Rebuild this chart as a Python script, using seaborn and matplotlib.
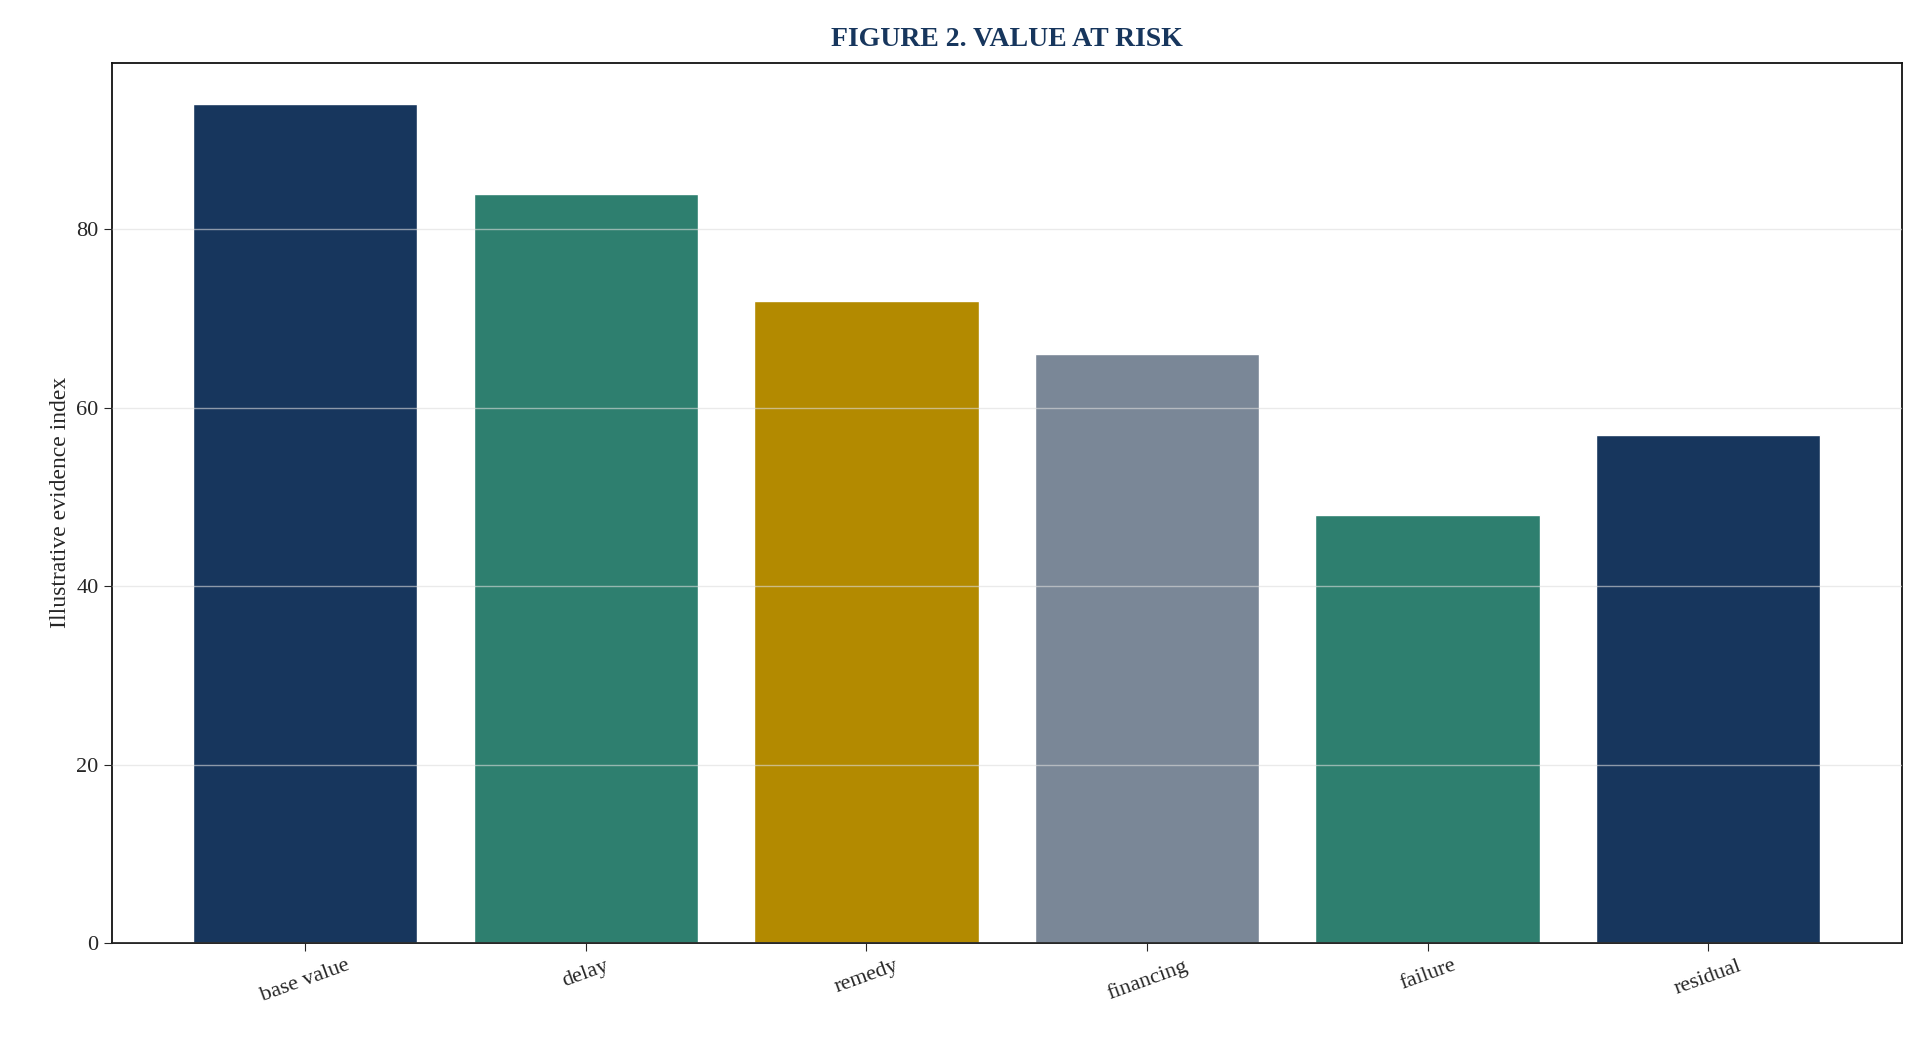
import matplotlib
matplotlib.use("Agg")
import matplotlib.pyplot as plt
import seaborn as sns
import pandas as pd

categories = ["base value", "delay", "remedy", "financing", "failure", "residual"]
values = [94, 84, 72, 66, 48, 57]
colors = ["#17365D", "#2E7F6F", "#B38A00", "#7A8797", "#2E7F6F", "#17365D"]

sns.set_style("ticks")
plt.rcParams["font.family"] = ["Liberation Serif", "DejaVu Serif"]

df = pd.DataFrame({"cat": categories, "val": values})
fig = plt.figure(figsize=(19.24, 10.55), dpi=100)
ax = fig.add_axes([0.058, 0.106, 0.9305, 0.8347])
sns.barplot(data=df, x="cat", y="val", hue="cat", palette=colors, legend=False,
            width=0.8, saturation=1, ax=ax)
ax.set_xlim(-0.69, 5.69)
ax.set_ylim(0, 98.7)
ax.set_yticks([0, 20, 40, 60, 80])
ax.yaxis.grid(True, color="#dddddd", linewidth=1, alpha=0.6)
ax.set_axisbelow(False)
ax.set_xlabel("")
ax.set_ylabel("Illustrative evidence index", fontsize=17)
ax.tick_params(axis="both", labelsize=16, length=6)
plt.setp(ax.get_xticklabels(), rotation=20)
for s in ax.spines.values():
    s.set_linewidth(1.3)
    s.set_color("#111111")
ax.set_title("FIGURE 2. VALUE AT RISK", fontsize=20, fontweight="bold",
             color="#17365D", pad=12)
fig.savefig("out.png", dpi=100)
